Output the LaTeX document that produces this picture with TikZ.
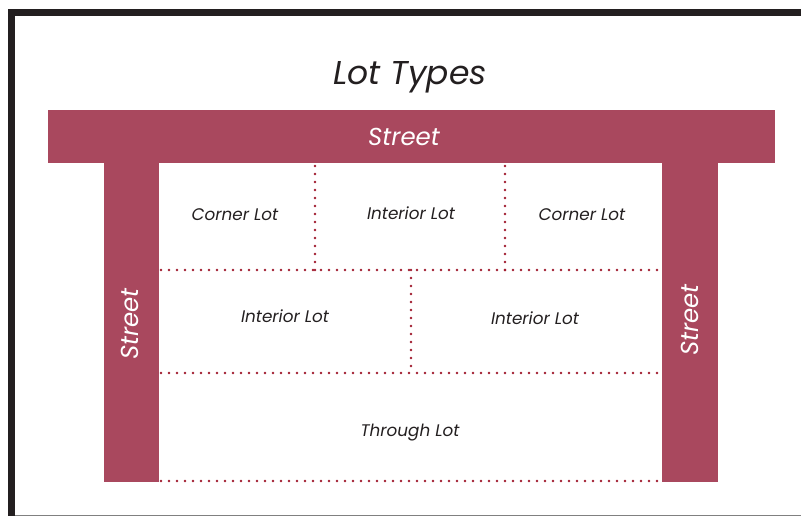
\documentclass[tikz,border=0pt]{standalone}
\usepackage{fontspec}
\setmainfont{Poppins}
\usetikzlibrary{positioning}

\definecolor{street-red}{RGB}{169,72,94}
\definecolor{lot-red}{RGB}{160,28,46}
\definecolor{frame-black}{RGB}{35,31,32}

\tikzset{
  street/.style={fill=street-red},
  street-label/.style={text=white,inner sep=0pt,font=\fontsize{24.5}{24.5}\selectfont\itshape},
  lot-line/.style={draw=lot-red,line width=2.6pt,dash pattern=on 0pt off 8pt,line cap=round},
  lot-label/.style={inner sep=0pt,anchor=base,text=frame-black,font=\fontsize{16.8}{16.8}\selectfont\itshape},
  title-label/.style={inner sep=0pt,anchor=base,text=frame-black,font=\fontsize{33}{33}\selectfont\itshape}
}

\begin{document}
\begin{tikzpicture}[x=1pt,y=-1pt]

  \useasboundingbox (0,0) rectangle (801,516);

  % Draw the frame, open on the right.
  \draw [frame-black,line width=7pt] (11.5,520) -- (11.5,12.5) -- (805,12.5);
  \draw [gray,line width=1.5pt] (15,515.5) -- (801,515.5);

  % Place the title.
  \node [title-label] (title) at (410,85) {Lot Types};

  % Draw the streets.
  \fill [street] (48,110) rectangle (775,163);
  \fill [street] (104,163) rectangle (159,482);
  \fill [street] (662,163) rectangle (718,482);

  \node [street-label,anchor=base] (street-top) at (404,146) {Street};
  \node [street-label,rotate=90] (street-left) at (130,324) {Street};
  \node [street-label,rotate=90] (street-right) at (690,320) {Street};

  % Corners of the block.
  \coordinate (block-nw) at (159,166);
  \coordinate (block-ne) at (662,166);
  \coordinate (row-one-w) at (161,270);
  \coordinate (row-one-e) at (660,270);
  \coordinate (row-two-w) at (161,373);
  \coordinate (row-two-e) at (660,373);
  \coordinate (block-sw) at (161,481);
  \coordinate (block-se) at (660,481);

  % Draw the lot lines.
  \draw [lot-line] (315,166) -- (315,270);
  \draw [lot-line] (505,166) -- (505,270);
  \draw [lot-line] (row-one-w) -- (row-one-e);
  \draw [lot-line] (411,270) -- (411,373);
  \draw [lot-line] (row-two-w) -- (row-two-e);
  \draw [lot-line] (block-sw) -- (block-se);

  % Place the lot names.
  \node [lot-label] (corner-left) at (235,220) {Corner Lot};
  \node [lot-label] (interior-top) at (411,219) {Interior Lot};
  \node [lot-label] (corner-right) at (582,220) {Corner Lot};
  \node [lot-label] (interior-left) at (285,322) {Interior Lot};
  \node [lot-label] (interior-right) at (535,324) {Interior Lot};
  \node [lot-label] (through) at (410,436) {Through Lot};

\end{tikzpicture}
\end{document}
